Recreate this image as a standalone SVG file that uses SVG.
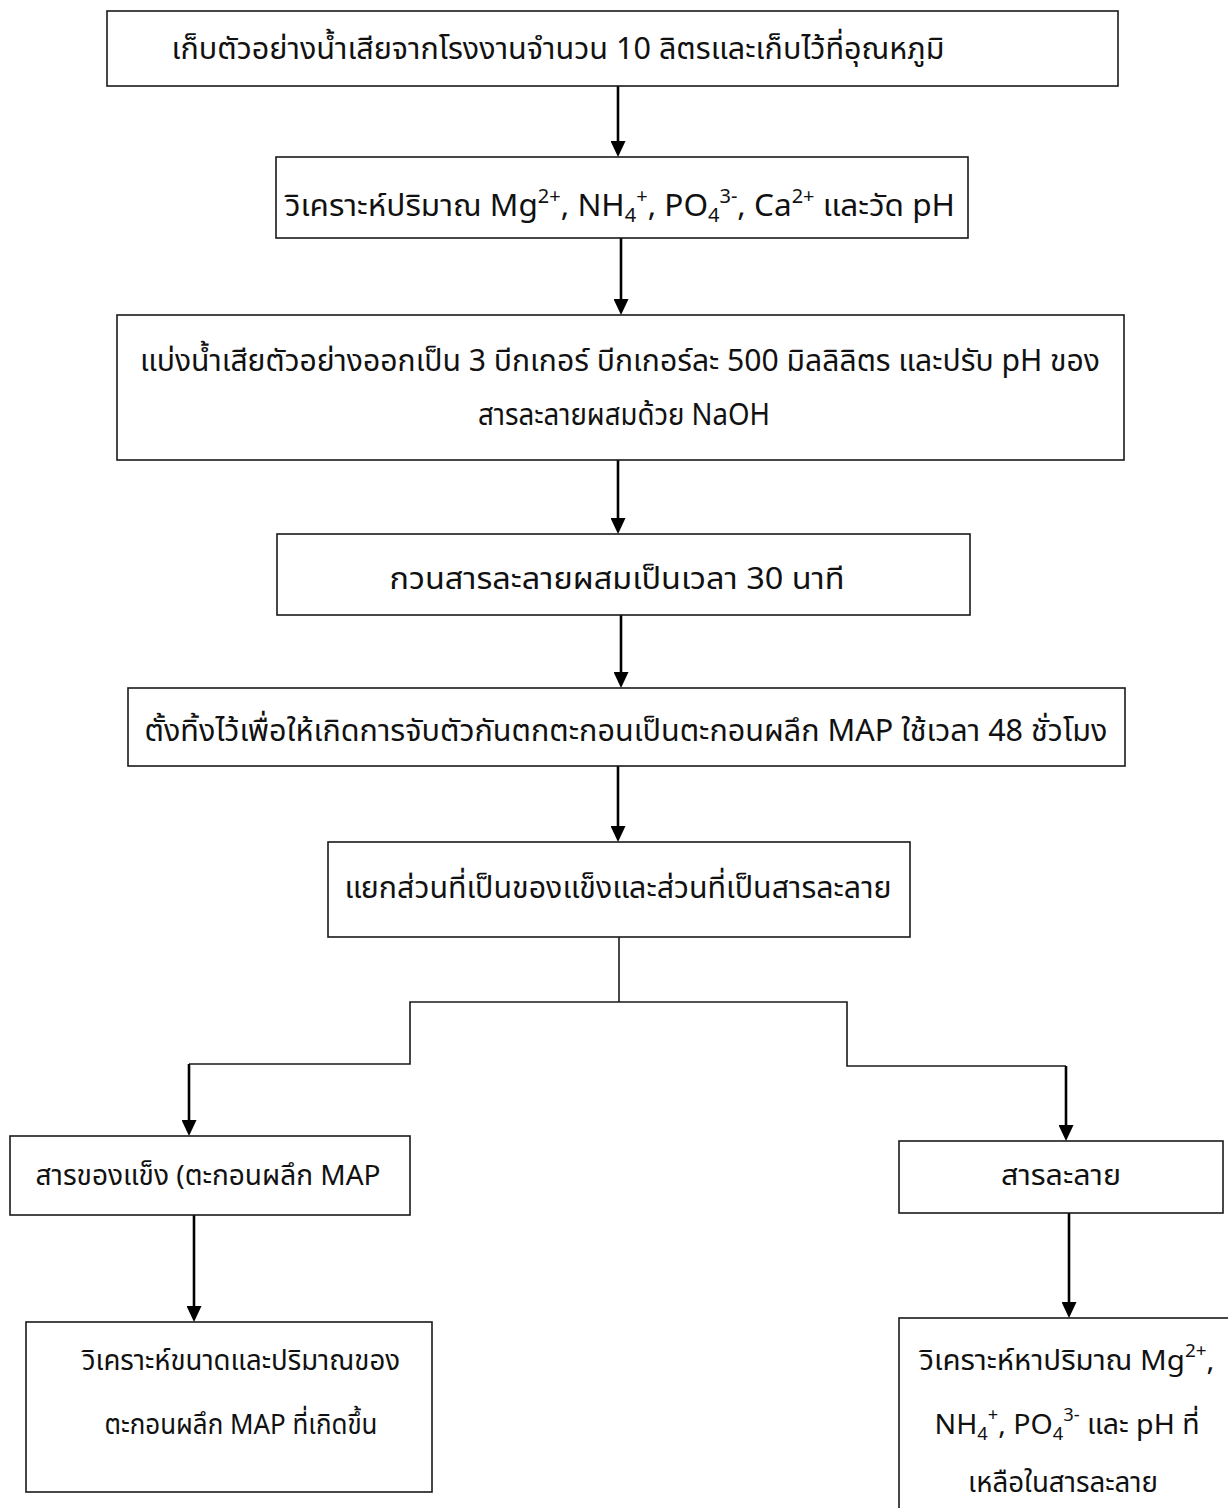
<svg xmlns="http://www.w3.org/2000/svg" width="1228" height="1508" viewBox="0 0 1228 1508">
<defs>
<marker id="ah" markerUnits="userSpaceOnUse" markerWidth="16" markerHeight="15" viewBox="0 0 16 15" refX="6" refY="7.5" orient="auto">
<path d="M0,0 L16,7.5 L0,15 Z" fill="#000"/>
</marker>
<style>
.box{fill:#fff;stroke:#1a1a1a;stroke-width:1.6}
.t{font-family:"Noto Sans Thai","Noto Sans","DejaVu Sans",sans-serif;font-size:26px;fill:#111;text-anchor:middle}
.t.u{font-size:30px}
.t.l{font-size:28px}
.arr{stroke:#000;stroke-width:2.6;fill:none}
.ln{stroke:#1a1a1a;stroke-width:1.6;fill:none}
.sup{font-size:18px}
.sup2{font-size:19px}
</style>
</defs>
<rect width="1228" height="1508" fill="#fff"/>
<g id="connectors">
<line class="arr" x1="618" y1="86" x2="618" y2="147" marker-end="url(#ah)"/>
<line class="arr" x1="621" y1="238" x2="621" y2="305" marker-end="url(#ah)"/>
<line class="arr" x1="618" y1="460" x2="618" y2="524" marker-end="url(#ah)"/>
<line class="arr" x1="621" y1="615" x2="621" y2="678" marker-end="url(#ah)"/>
<line class="arr" x1="618" y1="766" x2="618" y2="832" marker-end="url(#ah)"/>
<polyline class="ln" points="619,937 619,1002"/>
<polyline class="ln" points="189,1064 410,1064 410,1002 847,1002 847,1066 1066,1066"/>
<line class="arr" x1="189" y1="1064" x2="189" y2="1126" marker-end="url(#ah)"/>
<line class="arr" x1="1066" y1="1066" x2="1066" y2="1131" marker-end="url(#ah)"/>
<line class="arr" x1="194" y1="1215" x2="194" y2="1312" marker-end="url(#ah)"/>
<line class="arr" x1="1069" y1="1213" x2="1069" y2="1308" marker-end="url(#ah)"/>
</g>
<g id="n1">
<rect class="box" x="107" y="11" width="1011" height="75"/>
<text class="t u" x="558" y="59" textLength="773" lengthAdjust="spacingAndGlyphs">เก็บตัวอย่างน้ำเสียจากโรงงานจำนวน 10 ลิตรและเก็บไว้ที่อุณหภูมิ</text>
</g>
<g id="n2">
<rect class="box" x="276" y="157" width="692" height="81"/>
<text class="t u" x="620" y="216" textLength="670" lengthAdjust="spacingAndGlyphs">วิเคราะห์ปริมาณ Mg<tspan class="sup2" dy="-13">2+</tspan><tspan dy="13">, NH</tspan><tspan class="sup2" dy="6">4</tspan><tspan class="sup2" dy="-19">+</tspan><tspan dy="13">, PO</tspan><tspan class="sup2" dy="6">4</tspan><tspan class="sup2" dy="-19">3-</tspan><tspan dy="13">, Ca</tspan><tspan class="sup2" dy="-13">2+</tspan><tspan dy="13"> และวัด pH</tspan></text>
</g>
<g id="n3">
<rect class="box" x="117" y="315" width="1007" height="145"/>
<text class="t u" x="620" y="371" textLength="960" lengthAdjust="spacingAndGlyphs">แบ่งน้ำเสียตัวอย่างออกเป็น 3 บีกเกอร์ บีกเกอร์ละ 500 มิลลิลิตร และปรับ pH ของ</text>
<text class="t u" x="624" y="425" textLength="292" lengthAdjust="spacingAndGlyphs">สารละลายผสมด้วย NaOH</text>
</g>
<g id="n4">
<rect class="box" x="277" y="534" width="693" height="81"/>
<text class="t u" x="617" y="589" textLength="455" lengthAdjust="spacingAndGlyphs">กวนสารละลายผสมเป็นเวลา 30 นาที</text>
</g>
<g id="n5">
<rect class="box" x="128" y="688" width="997" height="78"/>
<text class="t u" x="626" y="741" textLength="963" lengthAdjust="spacingAndGlyphs">ตั้งทิ้งไว้เพื่อให้เกิดการจับตัวกันตกตะกอนเป็นตะกอนผลึก MAP ใช้เวลา 48 ชั่วโมง</text>
</g>
<g id="n6">
<rect class="box" x="328" y="842" width="582" height="95"/>
<text class="t u" x="618" y="898" textLength="547" lengthAdjust="spacingAndGlyphs">แยกส่วนที่เป็นของแข็งและส่วนที่เป็นสารละลาย</text>
</g>
<g id="n7">
<rect class="box" x="10" y="1136" width="400" height="79"/>
<text class="t l" x="208" y="1185" textLength="345" lengthAdjust="spacingAndGlyphs">สารของแข็ง (ตะกอนผลึก MAP</text>
</g>
<g id="n8">
<rect class="box" x="899" y="1141" width="324" height="72"/>
<text class="t l" x="1061" y="1185" textLength="120" lengthAdjust="spacingAndGlyphs">สารละลาย</text>
</g>
<g id="n9">
<rect class="box" x="26" y="1322" width="406" height="170"/>
<text class="t l" x="241" y="1370" textLength="318" lengthAdjust="spacingAndGlyphs">วิเคราะห์ขนาดและปริมาณของ</text>
<text class="t l" x="241" y="1434" textLength="273" lengthAdjust="spacingAndGlyphs">ตะกอนผลึก MAP ที่เกิดขึ้น</text>
</g>
<g id="n10">
<rect class="box" x="899" y="1318" width="345" height="210"/>
<text class="t l" x="1067" y="1370" textLength="295" lengthAdjust="spacingAndGlyphs">วิเคราะห์หาปริมาณ Mg<tspan class="sup" dy="-13">2+</tspan><tspan dy="13">,</tspan></text>
<text class="t l" x="1067" y="1434" textLength="265" lengthAdjust="spacingAndGlyphs">NH<tspan class="sup" dy="6">4</tspan><tspan class="sup" dy="-19">+</tspan><tspan dy="13">, PO</tspan><tspan class="sup" dy="6">4</tspan><tspan class="sup" dy="-19">3-</tspan><tspan dy="13"> และ pH ที่</tspan></text>
<text class="t l" x="1063" y="1492" textLength="190" lengthAdjust="spacingAndGlyphs">เหลือในสารละลาย</text>
</g>
</svg>
